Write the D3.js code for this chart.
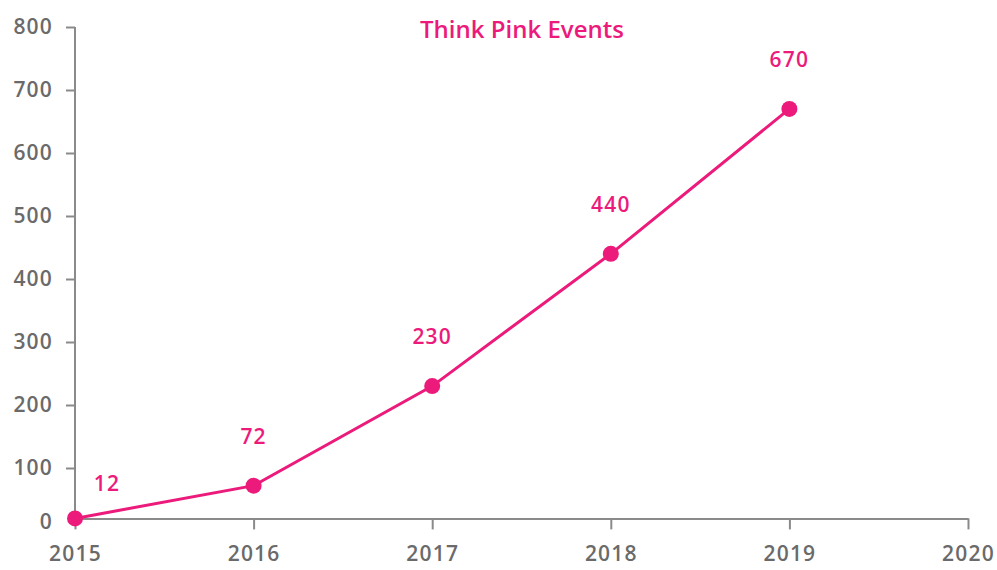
<!DOCTYPE html>
<html>
<head>
<meta charset="utf-8">
<script src="https://cdn.jsdelivr.net/npm/d3@7"></script>
<style>
  html, body { margin: 0; padding: 0; background: #fff; }
  svg text { font-family: "Open Sans", "DejaVu Sans", sans-serif; }
</style>
</head>
<body>
<svg id="chart" width="997" height="570"></svg>
<script>
const years = [2015, 2016, 2017, 2018, 2019];
const events = [12, 72, 230, 440, 670];
const yTicks = [0, 100, 200, 300, 400, 500, 600, 700, 800];
const xTicks = [2015, 2016, 2017, 2018, 2019, 2020];
const title = "Think Pink Events";

const pink = "#ec1a7b";
const axisColor = "#8a8a8a";
const labelColor = "#6a6a6a";

const svg = d3.select("#chart");
const x = d3.scaleLinear().domain([2015, 2020]).range([75, 968]);
const y = d3.scaleLinear().domain([0, 800]).range([531, 27]);
const xAxisY = y(20);

// Y axis
const yAxis = svg.append("g")
  .attr("transform", `translate(${x(2015)},0)`)
  .call(d3.axisLeft(y).tickValues(yTicks).tickSize(9).tickPadding(13).tickSizeOuter(0));
yAxis.select(".domain").attr("d", `M0,${y(800)}V${xAxisY}`);
yAxis.selectAll(".domain, .tick line").attr("stroke", axisColor).attr("stroke-width", 2);
yAxis.selectAll(".tick").filter(d => d === 0).select("line").remove();
yAxis.selectAll(".tick").filter(d => d === 0).select("text").attr("y", xAxisY - y(0) + 3);
yAxis.selectAll(".tick text").attr("fill", labelColor).attr("font-size", 21)
  .attr("font-weight", 600).attr("letter-spacing", 1.2);

// X axis
const xAxis = svg.append("g")
  .attr("transform", `translate(0,${xAxisY})`)
  .call(d3.axisBottom(x).tickValues(xTicks).tickFormat(d3.format("d")).tickSize(11).tickPadding(17).tickSizeOuter(0));
xAxis.selectAll(".domain, .tick line").attr("stroke", axisColor).attr("stroke-width", 2);
xAxis.selectAll(".tick text").attr("fill", labelColor).attr("font-size", 21)
  .attr("font-weight", 600).attr("letter-spacing", 1.2);

// Line
const data = years.map((yr, i) => ({ yr, v: events[i] }));
svg.append("path")
  .datum(data)
  .attr("fill", "none")
  .attr("stroke", pink)
  .attr("stroke-width", 3)
  .attr("d", d3.line().x(d => x(d.yr)).y(d => Math.min(y(d.v), xAxisY)));

svg.selectAll("circle.pt")
  .data(data).join("circle")
  .attr("class", "pt")
  .attr("cx", d => x(d.yr))
  .attr("cy", d => Math.min(y(d.v), xAxisY))
  .attr("r", 8)
  .attr("fill", pink);

// Data labels
svg.selectAll("text.lbl")
  .data(data).join("text")
  .attr("class", "lbl")
  .attr("x", (d, i) => x(d.yr) + (i === 0 ? 32 : 0))
  .attr("y", (d, i) => Math.min(y(d.v), xAxisY) - (i === 0 ? 27 : 42))
  .attr("text-anchor", "middle")
  .attr("fill", pink)
  .attr("font-size", 21)
  .attr("font-weight", 600)
  .attr("letter-spacing", 1.2)
  .text(d => d.v);

// Title
svg.append("text")
  .attr("x", 522)
  .attr("y", 38)
  .attr("text-anchor", "middle")
  .attr("fill", pink)
  .attr("font-size", 24)
  .attr("font-weight", 600)
  .text(title);
</script>
</body>
</html>
